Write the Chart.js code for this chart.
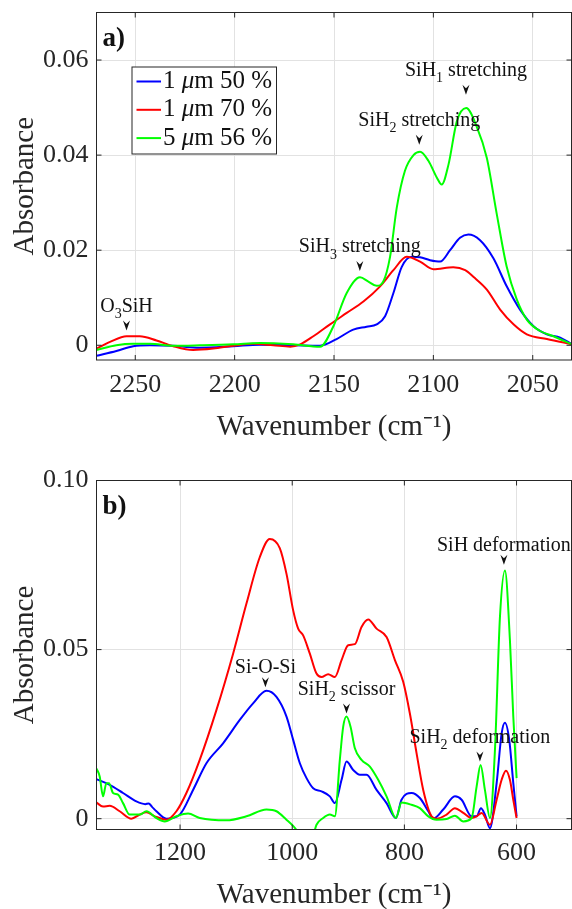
<!DOCTYPE html>
<html>
<head>
<meta charset="utf-8">
<style>
  html, body { margin: 0; padding: 0; background: #fff; overflow: hidden; width: 572px; height: 909px; }
  canvas { position: absolute; left: 0; }
  #chartA { top: 0; }
  #chartB { top: 450px; }
</style>
</head>
<body>
<canvas id="chartA" width="572" height="450"></canvas>
<canvas id="chartB" width="572" height="480"></canvas>

<script src="https://cdn.jsdelivr.net/npm/chart.js"></script>

<script>
  const seriesLabels = ['1 μm 50 %', '1 μm 70 %', '5 μm 56 %'];
  const seriesColors = ['#0000ff', '#ff0000', '#00ff00'];

  // a) Si-H stretching region   [wavenumber, absorbance]
  const blueA = [[2269.5,-0.0022],[2259.5,-0.0012],[2251,-0.0002],[2242.6,0],[2231,-0.0001],[2217.5,-0.0005],
    [2200.7,-0.0002],[2187.3,0.0001],[2170.5,0],[2157,-0.0001],[2148.7,0.0013],[2140.3,0.0033],[2133.6,0.0039],
    [2128.5,0.0044],[2124.3,0.0061],[2120.1,0.011],[2115.9,0.0165],[2110.9,0.0186],[2106.7,0.0185],[2101.7,0.0179],
    [2096.6,0.0176],[2091.6,0.02],[2086.6,0.0226],[2082.4,0.0233],[2076.5,0.0221],[2069.8,0.0183],[2063.1,0.0124],
    [2056.4,0.0075],[2049.6,0.004],[2042.9,0.0023],[2036.2,0.0016],[2030.2,0.0002]];
  const redA = [[2269.5,-0.0007],[2262.7,0.0007],[2254.4,0.0019],[2247.7,0.0019],[2239.3,0.001],[2230.9,-0.0002],
    [2220.9,-0.001],[2210.8,-0.0007],[2200.7,-0.0001],[2190.7,0.0003],[2180.6,0],[2172,-0.0003],[2167,0.0002],
    [2160.4,0.0019],[2152,0.0044],[2143.6,0.0068],[2135.2,0.0092],[2126.8,0.0124],[2120.1,0.0158],[2113.4,0.0186],
    [2106.7,0.0176],[2100,0.016],[2090,0.0164],[2084,0.0158],[2079.9,0.0144],[2073.1,0.0117],[2066.4,0.0075],
    [2059.7,0.0044],[2053,0.0023],[2042.9,0.0013],[2030.2,0.0002]];
  const greenA = [[2269.5,-0.001],[2259.5,0],[2251,0.0003],[2242.6,0.0003],[2231,-0.0001],[2217.5,0],[2200.7,0.0002],
    [2187.3,0.0005],[2170.5,0.0002],[2157,-0.0003],[2150.3,0.004],[2143.6,0.011],[2136.9,0.0143],[2132.7,0.0134],
    [2128.5,0.0125],[2125.2,0.0134],[2121.8,0.0186],[2118.4,0.029],[2114.3,0.0367],[2110,0.04],[2106.7,0.0407],
    [2102.5,0.0388],[2098.3,0.0353],[2095.8,0.0338],[2092.4,0.038],[2088.2,0.0471],[2083.5,0.0499],[2078.2,0.046],
    [2073.1,0.0394],[2068.1,0.0276],[2063.1,0.0165],[2058,0.0096],[2053,0.0054],[2046.3,0.003],[2039.6,0.0019],
    [2030.2,0.0002]];
  const xTicksA = [2250, 2200, 2150, 2100, 2050];
  const yTicksA = [0, 0.02, 0.04, 0.06];
  const yTickLabelsA = ['0', '0.02', '0.04', '0.06'];
  const peaksA = [['O_3SiH', 2254.4, 0.0031], ['SiH_3 stretching', 2137, 0.0156],
    ['SiH_2 stretching', 2107.1, 0.0422], ['SiH_1 stretching', 2083.6, 0.0527]];

  // b) fingerprint region
  const blueB = [[1349.3,0.0117],[1325.5,0.01],[1301.7,0.0076],[1277.9,0.0051],[1262,0.0043],[1256,0.0045],[1250,0.0035],
    [1242.2,0.0022],[1224.4,0],[1200.6,0.0012],[1176.8,0.0085],[1153,0.0164],[1123.3,0.0223],[1093.5,0.0292],
    [1069.8,0.0341],[1045.9,0.0378],[1028.1,0.036],[1010.2,0.0302],[998.3,0.0233],[986.4,0.0164],[974.5,0.012],
    [962.6,0.009],[947.8,0.0081],[932.9,0.0066],[924,0.0046],[912,0.0115],[903.2,0.0169],[891.3,0.0144],[879.4,0.013],
    [867.5,0.013],[849.6,0.0085],[831.8,0.0046],[815.1,0.0002],[805.1,0.0056],[787.2,0.0076],[772.4,0.0061],
    [757.4,0.0022],[748.5,0],[730.7,0.0027],[709.9,0.0066],[698,0.0056],[680.1,0.0007],[671.2,0.0007],[663.5,0.0031],
    [656.4,0.0012],[647.4,-0.0028],[635.5,0.0105],[626.6,0.0252],[620.7,0.0284],[613,0.0233],[605.8,0.0105],[599.9,0.0007]];
  const redB = [[1349.3,0.0048],[1337.4,0.0036],[1325.5,0.0038],[1307.6,0.0022],[1286.8,0],[1272,0.0012],[1260,0.0019],
    [1245.2,0.0007],[1224.4,-0.0003],[1206.5,0.0022],[1188.7,0.0076],[1164.9,0.0174],[1135.2,0.0321],[1105.4,0.0488],
    [1081.6,0.0636],[1057.9,0.0773],[1040,0.0827],[1022.2,0.08],[1010.2,0.0724],[998.3,0.0616],[989.4,0.0562],
    [980.5,0.0542],[968.6,0.0488],[956.7,0.0429],[947.8,0.0419],[935.9,0.0427],[924,0.0419],[912,0.0469],[900.2,0.0513],
    [888.3,0.0516],[876.4,0.0567],[864.5,0.0589],[849.6,0.0562],[831.8,0.0537],[816.9,0.0469],[802.1,0.0405],
    [790.2,0.0311],[778.3,0.0194],[766.4,0.0085],[751.5,0.0007],[742.6,0],[724.8,0.0012],[709.9,0.0031],[695,0.0017],
    [680.1,0.0002],[671.2,0.0007],[662.3,0.0017],[647.4,-0.0018],[635.5,0.0056],[626.6,0.0115],[618.9,0.0142],
    [611.8,0.0115],[605.8,0.0056],[599.9,0.0002]];
  const greenB = [[1349.3,0.0149],[1343.3,0.0125],[1337.4,0.0066],[1331.4,0.0105],[1326.7,0.0105],[1319.5,0.0076],
    [1310.6,0.0071],[1301.7,0.0046],[1289.8,0.0012],[1272,0.0012],[1260,0.0022],[1242.2,0.0002],[1227.4,-0.0008],
    [1206.5,0.0007],[1185.7,0.0015],[1164.9,0.0002],[1117.3,-0.0005],[1081.6,0.0007],[1045.9,0.0027],[1028.1,0.0022],
    [1010.3,-0.0003],[998,-0.0022],[986.4,-0.0045],[975,-0.006],[962,-0.0045],[956.7,-0.0018],[944.8,0.0002],
    [932.9,0.0012],[924,0.0007],[915.1,0.0174],[909.1,0.0272],[903.2,0.0302],[896,0.0272],[888.3,0.0208],[876.4,0.0174],
    [861.5,0.0154],[846.7,0.0115],[831.8,0.0066],[815.1,0.0002],[805.1,0.0048],[787.2,0.0041],[772.4,0.0031],
    [757.4,0.0007],[742.6,-0.0003],[724.8,-0.0001],[709.9,0.0009],[695,-0.0008],[680.1,0.0002],[671.2,0.0095],
    [664.1,0.0159],[656.4,0.0085],[647.4,0.0002],[638.5,0.0203],[629.6,0.0596],[620.7,0.0734],[611.8,0.0528],
    [605.8,0.0302],[599.9,0.012]];
  const xTicksB = [1200, 1000, 800, 600];
  const yTicksB = [0, 0.05, 0.1];
  const yTickLabelsB = ['0', '0.05', '0.10'];
  const peaksB = [['Si-O-Si', 1047.8, 0.0389], ['SiH_2 scissor', 903.2, 0.0311],
    ['SiH_2 deformation', 665.3, 0.0169], ['SiH deformation', 622.5, 0.0751]];

  const serif = '"Liberation Serif", "Times New Roman", serif';
  const ink = '#262626';

  // split 'SiH_2 x' into [text, isSub] pieces
  function pieces(str) {
    const out = [];
    let buf = '';
    for (let i = 0; i < str.length; i++) {
      if (str[i] === '_') {
        if (buf) out.push([buf, false]);
        buf = '';
        out.push([str[i + 1], true]);
        i++;
      } else buf += str[i];
    }
    if (buf) out.push([buf, false]);
    return out;
  }

  function drawPeakLabel(ctx, str, x, base, size) {
    const ps = pieces(str);
    const big = size + 'px ' + serif, small = Math.round(size * 0.7) + 'px ' + serif;
    let w = 0;
    ps.forEach(p => { ctx.font = p[1] ? small : big; w += ctx.measureText(p[0]).width; });
    let cx = x - w / 2;
    ctx.textAlign = 'left';
    ctx.textBaseline = 'alphabetic';
    ps.forEach(p => {
      ctx.font = p[1] ? small : big;
      ctx.fillText(p[0], cx, base + (p[1] ? size * 0.33 : 0));
      cx += ctx.measureText(p[0]).width;
    });
  }

  const matlabLook = {
    id: 'matlabLook',
    afterDraw(chart, args, opts) {
      const ctx = chart.ctx, a = chart.chartArea;
      const xs = chart.scales.x, ys = chart.scales.y;
      ctx.save();
      // box + inward ticks
      ctx.strokeStyle = ink;
      ctx.lineWidth = 1;
      ctx.strokeRect(a.left, a.top, a.right - a.left, a.bottom - a.top);
      ctx.beginPath();
      xs.ticks.forEach(t => {
        const px = xs.getPixelForValue(t.value);
        ctx.moveTo(px, a.bottom); ctx.lineTo(px, a.bottom - 5);
        ctx.moveTo(px, a.top); ctx.lineTo(px, a.top + 5);
      });
      ys.ticks.forEach(t => {
        const py = ys.getPixelForValue(t.value);
        ctx.moveTo(a.left, py); ctx.lineTo(a.left + 5, py);
        ctx.moveTo(a.right, py); ctx.lineTo(a.right - 5, py);
      });
      ctx.stroke();

      // panel letter
      ctx.fillStyle = '#111';
      ctx.font = 'bold 27px ' + serif;
      ctx.textAlign = 'left';
      ctx.textBaseline = 'alphabetic';
      ctx.fillText(opts.panel, a.left + 6, a.top + 33);

      // peak markers
      opts.peaks.forEach(p => {
        const px = xs.getPixelForValue(p[1]), py = ys.getPixelForValue(p[2]);
        ctx.beginPath();
        ctx.moveTo(px, py);
        ctx.lineTo(px - 3.5, py - 10);
        ctx.lineTo(px, py - 6.5);
        ctx.lineTo(px + 3.5, py - 10);
        ctx.closePath();
        ctx.fill();
        const gap = p[0].indexOf('_') >= 0 ? 19 : 14;
        drawPeakLabel(ctx, p[0], px, py - gap, 20);
      });

      // legend box
      if (opts.legend) {
        const bx = a.left + 35.5, by = a.top + 54.5, bw = 144.5, bh = 87;
        ctx.fillStyle = '#fff';
        ctx.fillRect(bx, by, bw, bh);
        ctx.strokeStyle = ink;
        ctx.strokeRect(bx, by, bw, bh);
        chart.data.datasets.forEach((ds, i) => {
          const ry = by + 14.5 + i * 28.3;
          ctx.strokeStyle = ds.borderColor;
          ctx.lineWidth = 2;
          ctx.beginPath();
          ctx.moveTo(bx + 4.5, ry); ctx.lineTo(bx + 29, ry);
          ctx.stroke();
          ctx.fillStyle = '#111';
          ctx.textBaseline = 'middle';
          let tx = bx + 31;
          const parts = ds.label.split('μ');
          ctx.font = '25px ' + serif;
          ctx.fillText(parts[0], tx, ry);
          tx += ctx.measureText(parts[0]).width;
          ctx.font = 'italic 25px ' + serif;
          ctx.fillText('μ', tx, ry);
          tx += ctx.measureText('μ').width;
          ctx.font = '25px ' + serif;
          ctx.fillText(parts[1], tx, ry);
        });
      }
      ctx.restore();
    }
  };

  function noPad(s) {
    s.paddingTop = 0; s.paddingBottom = 0; s.paddingLeft = 0; s.paddingRight = 0;
  }

  function makeChart(id, series, xTicks, yTicks, yTickLabels, xr, yr, lay, extra) {
    const datasets = series.map((d, i) => ({
      label: seriesLabels[i],
      data: d,
      borderColor: seriesColors[i],
      backgroundColor: seriesColors[i],
      borderWidth: 2,
      pointRadius: 0,
      cubicInterpolationMode: 'monotone',
      order: 2 - i
    }));
    return new Chart(document.getElementById(id), {
      type: 'line',
      data: { datasets },
      plugins: [matlabLook],
      options: {
        responsive: false,
        animation: false,
        layout: { padding: { top: lay.top, right: 0.5, left: 0, bottom: 0 } },
        plugins: { legend: { display: false }, tooltip: { enabled: false }, matlabLook: extra },
        scales: {
          x: {
            type: 'linear', reverse: true, min: xr[0], max: xr[1],
            afterBuildTicks: s => { s.ticks = xTicks.map(v => ({ value: v })); },
            afterFit: s => { s.height = lay.xh; noPad(s); },
            grid: { color: '#e2e2e2', drawTicks: false },
            border: { display: false },
            ticks: { callback: v => String(v), color: ink, padding: lay.xpad, maxRotation: 0,
              font: { family: serif, size: 26 } },
            title: { display: true, text: 'Wavenumber (cm⁻¹)', color: ink,
              font: { family: serif, size: 29 }, padding: { top: 0, bottom: lay.tpad } }
          },
          y: {
            type: 'linear', min: yr[0], max: yr[1],
            afterBuildTicks: s => { s.ticks = yTicks.map(v => ({ value: v })); },
            afterFit: s => { s.width = 96.5; noPad(s); },
            grid: { color: '#e2e2e2', drawTicks: false },
            border: { display: false },
            ticks: { callback: v => yTickLabels[yTicks.indexOf(v)], color: ink, padding: 8,
              font: { family: serif, size: 26 } },
            title: { display: true, text: 'Absorbance', color: ink,
              font: { family: serif, size: 29 }, padding: { top: 8, bottom: 0 } }
          }
        }
      }
    });
  }

  makeChart('chartA', [blueA, redA, greenA], xTicksA, yTicksA, yTickLabelsA,
    [2030.5, 2269.5], [-0.0031, 0.07],
    { top: 12.5, xh: 90, xpad: 10, tpad: 5.5 },
    { panel: 'a)', peaks: peaksA, legend: true });

  makeChart('chartB', [blueB, redB, greenB], xTicksB, yTicksB, yTickLabelsB,
    [502, 1349], [-0.0032, 0.1],
    { top: 30.5, xh: 100.5, xpad: 8, tpad: 17.5 },
    { panel: 'b)', peaks: peaksB, legend: false });
</script>
</body>
</html>
